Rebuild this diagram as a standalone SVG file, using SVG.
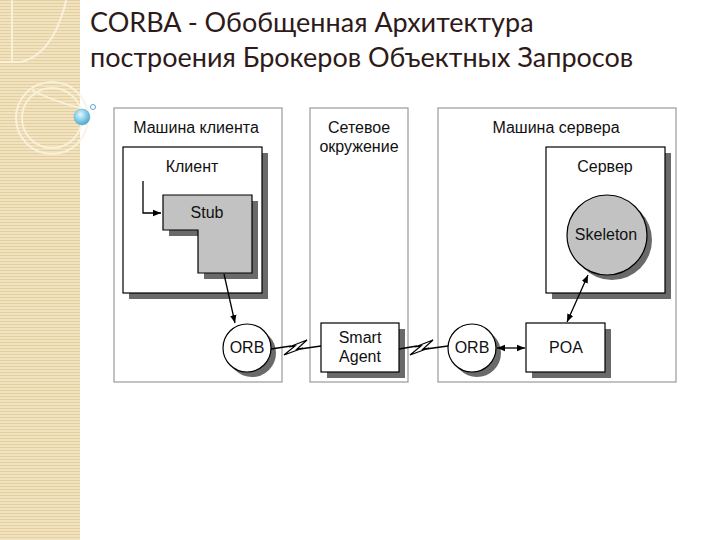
<svg xmlns="http://www.w3.org/2000/svg" width="720" height="540" viewBox="0 0 720 540">
<defs>
<pattern id="stripes" width="6" height="3" patternUnits="userSpaceOnUse">
<rect width="6" height="3" fill="#f2e3c0"/>
<rect width="6" height="1" fill="#e3cf9f"/>
</pattern>
<radialGradient id="ball" cx="0.4" cy="0.35" r="0.7">
<stop offset="0" stop-color="#e6f7fd"/>
<stop offset="0.6" stop-color="#7cc8e6"/>
<stop offset="1" stop-color="#4a9fc4"/>
</radialGradient>
<marker id="ah" viewBox="0 0 10 10" refX="10" refY="5" markerWidth="8" markerHeight="8" markerUnits="userSpaceOnUse" orient="auto-start-reverse">
<path d="M0,1 L10,5 L0,9 Z" fill="#000"/>
</marker>
<style>
.panel{fill:#fff;stroke:#9a9a9a;stroke-width:1.2}
.box{fill:#fff;stroke:#000;stroke-width:1.2}
.grey{fill:#c2c2c2;stroke:#000;stroke-width:1.2}
.shadow{fill:#6a6a6a}
.lbl{font-family:"Liberation Sans",Arial,sans-serif;font-size:16px;fill:#111;text-anchor:middle}
.title{font-family:Lato,"Open Sans",sans-serif;font-size:27px;fill:#2e1a18}
.conn{stroke:#000;stroke-width:1.3;fill:none}
.bolt{fill:#fff;stroke:#000;stroke-width:1.2;stroke-linejoin:miter}
</style>
</defs>

<!-- background -->
<rect width="720" height="540" fill="#fff"/>
<rect x="0" y="0" width="80" height="540" fill="url(#stripes)"/>
<g fill="none" stroke="#fbf3df" stroke-width="2" opacity="0.9">
<path d="M0,62 L20,62 Q42,58 56,30 Q64,12 66,0"/>
<line x1="12" y1="0" x2="12" y2="62"/>
<circle cx="52" cy="118" r="36"/>
<circle cx="52" cy="118" r="30"/>
<path d="M32,90 Q50,100 80,108"/>
</g>
<circle cx="82" cy="117" r="8" fill="url(#ball)" stroke="#6fb7d6" stroke-width="0.6"/>
<circle cx="93" cy="107" r="2.5" fill="#fff" stroke="#5aa7c8" stroke-width="1"/>

<!-- title -->
<text class="title" x="90" y="32">CORBA - Обобщенная Архитектура</text>
<text class="title" x="90" y="67">построения Брокеров Объектных Запросов</text>

<!-- panels -->
<g id="client-machine">
<rect class="panel" x="114" y="108" width="168" height="274"/>
<text class="lbl" x="196" y="133">Машина клиента</text>
</g>
<g id="network">
<rect class="panel" x="310" y="108" width="98" height="274"/>
<text class="lbl" x="359" y="133">Сетевое</text>
<text class="lbl" x="359" y="152">окружение</text>
</g>
<g id="server-machine">
<rect class="panel" x="438" y="108" width="238" height="274"/>
<text class="lbl" x="556" y="133">Машина сервера</text>
</g>

<!-- client -->
<g id="client">
<rect class="shadow" x="129" y="153" width="139" height="146"/>
<rect class="box" x="123" y="147" width="139" height="146"/>
<text class="lbl" x="192" y="172">Клиент</text>
</g>
<g id="stub">
<path class="shadow" d="M169,201 H258 V279 H204 V236 H169 Z"/>
<path class="grey" d="M163,195 H252 V273 H198 V230 H163 Z"/>
<text class="lbl" x="207" y="218">Stub</text>
</g>

<!-- server -->
<g id="server">
<rect class="shadow" x="552" y="153" width="119" height="146"/>
<rect class="box" x="546" y="147" width="119" height="146"/>
<text class="lbl" x="605" y="172">Сервер</text>
</g>
<g id="skeleton">
<circle class="shadow" cx="612" cy="240" r="40"/>
<circle class="grey" cx="607" cy="235" r="40"/>
<text class="lbl" x="606" y="240">Skeleton</text>
</g>

<!-- ORB client -->
<g id="orb-client">
<circle class="shadow" cx="252" cy="353" r="24"/>
<circle class="box" cx="247" cy="348" r="24"/>
<text class="lbl" x="247" y="353">ORB</text>
</g>
<g id="smart-agent">
<rect class="shadow" x="327" y="329" width="78" height="49"/>
<rect class="box" x="321" y="323" width="78" height="49"/>
<text class="lbl" x="360" y="343">Smart</text>
<text class="lbl" x="360" y="362">Agent</text>
</g>
<g id="orb-server">
<circle class="shadow" cx="477" cy="353" r="24"/>
<circle class="box" cx="472" cy="348" r="24"/>
<text class="lbl" x="472" y="353">ORB</text>
</g>
<g id="poa">
<rect class="shadow" x="532" y="329" width="79" height="49"/>
<rect class="box" x="526" y="323" width="79" height="49"/>
<text class="lbl" x="566" y="353">POA</text>
</g>

<!-- connectors -->
<g id="connectors">
<path class="conn" d="M143,181 V213 H161" marker-end="url(#ah)"/>
<line class="conn" x1="224" y1="274" x2="235" y2="323" marker-end="url(#ah)"/>
<line class="conn" x1="567" y1="322" x2="588" y2="275" marker-start="url(#ah)" marker-end="url(#ah)"/>
<line class="conn" x1="497" y1="348" x2="525" y2="348" marker-start="url(#ah)" marker-end="url(#ah)"/>
<line class="conn" x1="271" y1="349" x2="291" y2="346" stroke-width="2"/>
<path class="bolt" d="M284,355 L295,346 L289,347 L307,340 L297,349 L303,348 Z"/>
<line class="conn" x1="300" y1="349" x2="321" y2="346"/>
<line class="conn" x1="399" y1="349" x2="417" y2="346" stroke-width="2"/>
<path class="bolt" d="M410,355 L421,346 L415,347 L433,340 L423,349 L429,348 Z"/>
<line class="conn" x1="426" y1="349" x2="448" y2="346"/>
</g>
</svg>
